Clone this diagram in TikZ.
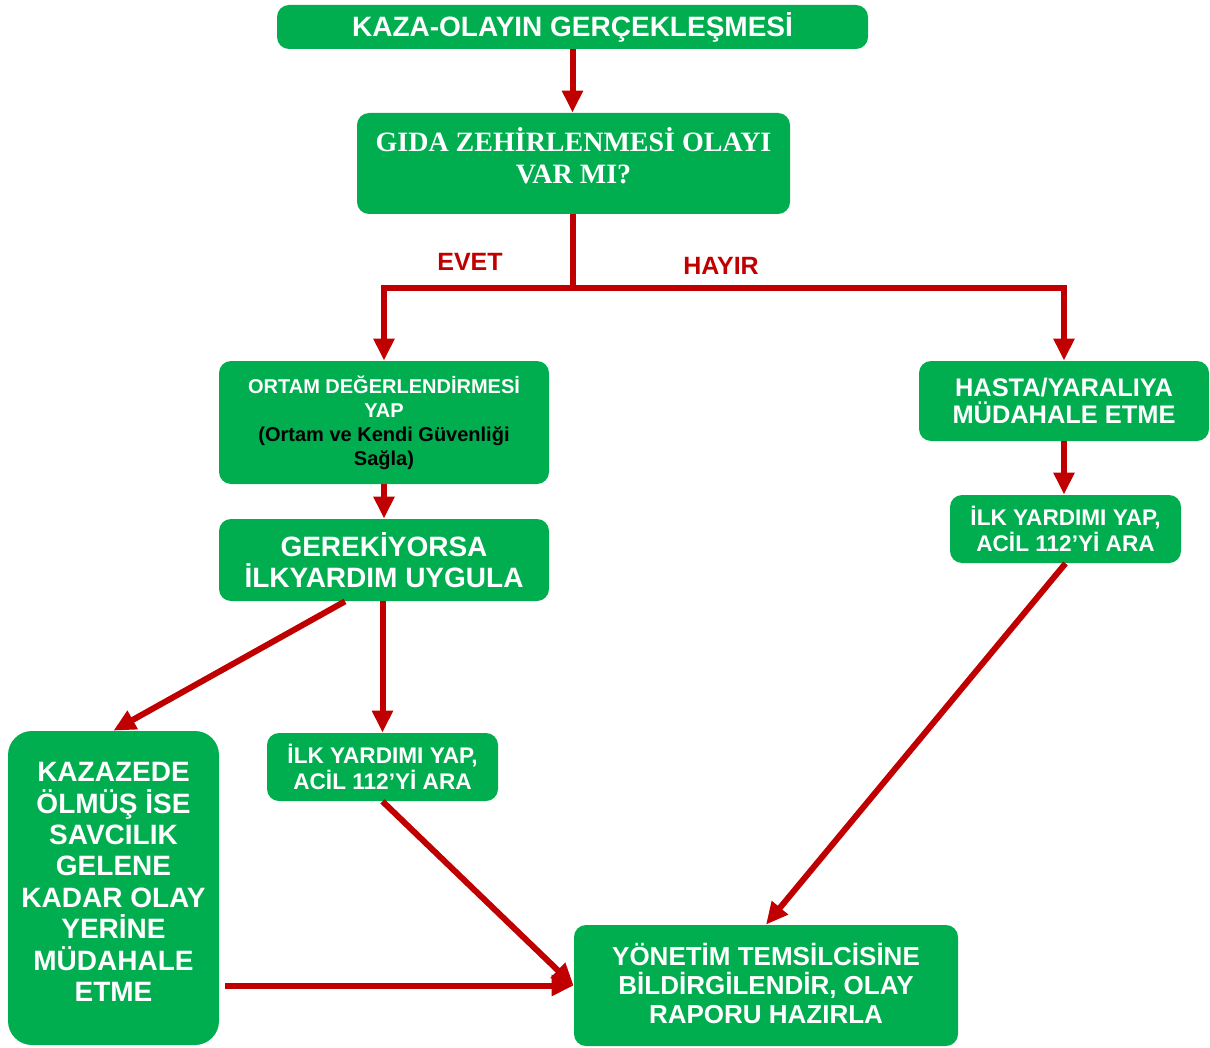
\documentclass[tikz,border=0pt]{standalone}
\usepackage{fontspec}
\setmainfont{Liberation Sans}
\newfontfamily\gidafont{Liberation Serif}
\usetikzlibrary{arrows.meta}
\definecolor{BoxClr}{RGB}{0,173,79}
\definecolor{LineClr}{RGB}{192,0,0}

\begin{document}
\begin{tikzpicture}[x=0.5pt,y=-0.5pt,
  box/.style={fill=BoxClr,rounded corners=6pt,text=white,align=center,inner sep=2pt},
  big/.style={font=\bfseries\fontsize{14}{15.7}\selectfont},
  small/.style={font=\bfseries\fontsize{11.3}{13}\selectfont},
  line/.style={draw=LineClr,line width=3pt},
  flow/.style={line,-{Triangle[width=10pt,length=11pt]}},
  answer/.style={text=LineClr,font=\bfseries\fontsize{12.5}{14}\selectfont}]
\useasboundingbox (0,0) rectangle (1210,1048);

\node[box,big,minimum width=295.5pt,minimum height=22pt] (start) at (572.5,27) {KAZA-OLAYIN GERÇEKLEŞMESİ};
\node[box,minimum width=216.5pt,minimum height=50.5pt,font=\gidafont\bfseries\fontsize{14}{16}\selectfont] (gida) at (573.5,163.5) {GIDA ZEHİRLENMESİ OLAYI\\VAR MI?\\[-8pt]};

\node[box,minimum width=165pt,minimum height=61.5pt,font=\bfseries\fontsize{10}{12}\selectfont] (ortam) at (384,422.5)
  {ORTAM DEĞERLENDİRMESİ\\YAP\\\textcolor{black}{(Ortam ve Kendi Güvenliği}\\\textcolor{black}{Sağla)}};
\node[box,big,minimum width=165pt,minimum height=41pt] (gerek) at (384,560) {GEREKİYORSA\\İLKYARDIM UYGULA};
\node[box,minimum width=145pt,minimum height=40pt,font=\bfseries\fontsize{12.7}{13.5}\selectfont] (hasta) at (1064,401) {HASTA/YARALIYA\\MÜDAHALE ETME};
\node[box,small,minimum width=115.5pt,minimum height=34pt] (ilk2) at (1065.5,529) {İLK YARDIMI YAP,\\ACİL 112’Yİ ARA};
\node[box,small,minimum width=115.5pt,minimum height=34pt] (ilk1) at (382.5,767) {İLK YARDIMI YAP,\\ACİL 112’Yİ ARA};
\node[box,big,rounded corners=12pt,minimum width=105.5pt,minimum height=157pt] (kaza) at (113.5,888)
  {KAZAZEDE\\ÖLMÜŞ İSE\\SAVCILIK\\GELENE\\KADAR OLAY\\YERİNE\\MÜDAHALE\\ETME\\[-9.7pt]};
\node[box,minimum width=192pt,minimum height=60.5pt,font=\bfseries\fontsize{13}{14.5}\selectfont] (yonetim) at (766,985.5)
  {YÖNETİM TEMSİLCİSİNE\\BİLDİRGİLENDİR, OLAY\\RAPORU HAZIRLA\\[-12pt]};

\node[answer] (evet) at (470,262) {EVET};
\node[answer] (hayir) at (721,266) {HAYIR};

\coordinate (fork) at (573,288);
\draw[flow] (start.south) -- (start.south |- gida.north);
\draw[line] (gida.south -| fork) -- (fork);
\draw[flow] (fork) -| (ortam);
\draw[flow] (fork) -| (hasta);
\draw[flow] (ortam) -- (gerek);
\draw[flow] (hasta.south) -- (hasta.south |- ilk2.north);
\draw[flow] ([xshift=-19.5pt]gerek.south) -- (kaza.north);
\draw[flow] (gerek.south -| ilk1.north) -- (ilk1.north);
\draw[flow] (ilk1.south) -- (yonetim.west);
\draw[flow] ([xshift=3pt]kaza.east |- yonetim.west) -- (yonetim.west);
\draw[flow] (ilk2.south) -- (yonetim.north);

\end{tikzpicture}
\end{document}
